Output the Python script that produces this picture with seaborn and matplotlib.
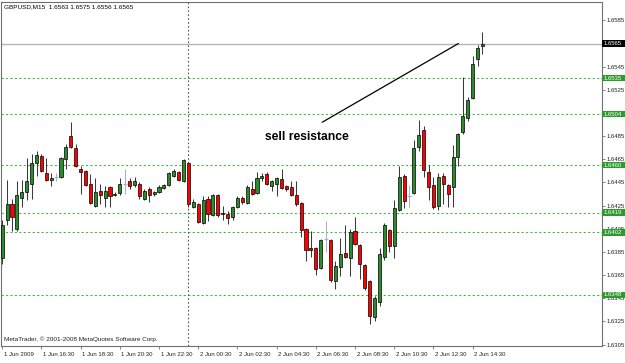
import numpy as np
import pandas as pd
import matplotlib
matplotlib.use("Agg")
import matplotlib.pyplot as plt
import matplotlib.patches as mpatches
from matplotlib.transforms import ScaledTranslation
import seaborn as sns

# ---------------- data (GBPUSD M15) ----------------
opens = [1.6380, 1.6413, 1.6426, 1.6405, 1.6432, 1.6437, 1.6444, 1.6462, 1.6468, 1.6453,
         1.6447, 1.6450, 1.6450, 1.6465, 1.6485, 1.6475, 1.6457, 1.6455, 1.6444, 1.6425,
         1.6438, 1.6432, 1.6441, 1.6434, 1.6436, 1.6444, 1.6446, 1.6443, 1.6444, 1.6431,
         1.6439, 1.6435, 1.6437, 1.6440, 1.6443, 1.6451, 1.6454, 1.6446, 1.6462, 1.6424,
         1.6426, 1.6410, 1.6431, 1.6417, 1.6434, 1.6419, 1.6418, 1.6415, 1.6424, 1.6432,
         1.6427, 1.6439, 1.6436, 1.6449, 1.6452, 1.6442, 1.6444, 1.6448, 1.6442, 1.6441,
         1.6434, 1.6427, 1.6405, 1.6388, 1.6388, 1.6371, 1.6396, 1.6395, 1.6360, 1.6372,
         1.6384, 1.6380, 1.6403, 1.6391, 1.6374, 1.6360, 1.6329, 1.6342, 1.6381, 1.6404,
         1.6390, 1.6421, 1.6451, 1.6433, 1.6436, 1.6476, 1.6490, 1.6454, 1.6443, 1.6425,
         1.6451, 1.6443, 1.6441, 1.6467, 1.6489, 1.6501, 1.6518, 1.6552, 1.6563]
highs = [1.6413, 1.6447, 1.6431, 1.6446, 1.6447, 1.6466, 1.6470, 1.6472, 1.6470, 1.6466,
         1.6453, 1.6453, 1.6467, 1.6478, 1.6497, 1.6478, 1.6459, 1.6456, 1.6452, 1.6449,
         1.6444, 1.6442, 1.6442, 1.6437, 1.6449, 1.6457, 1.6449, 1.6450, 1.6445, 1.6439,
         1.6441, 1.6438, 1.6443, 1.6444, 1.6454, 1.6457, 1.6455, 1.6465, 1.6463, 1.6431,
         1.6427, 1.6433, 1.6433, 1.6435, 1.6435, 1.6425, 1.6420, 1.6425, 1.6433, 1.6433,
         1.6443, 1.6446, 1.6454, 1.6453, 1.6454, 1.6447, 1.6450, 1.6457, 1.6443, 1.6446,
         1.6446, 1.6428, 1.6406, 1.6403, 1.6389, 1.6396, 1.6412, 1.6396, 1.6377, 1.6397,
         1.6408, 1.6405, 1.6415, 1.6392, 1.6375, 1.6361, 1.6347, 1.6388, 1.6410, 1.6405,
         1.6430, 1.6459, 1.6452, 1.6443, 1.6482, 1.6499, 1.6494, 1.6460, 1.6450, 1.6453,
         1.6453, 1.6444, 1.6477, 1.6488, 1.6536, 1.6519, 1.6554, 1.6564, 1.6575]
lows = [1.6375, 1.6408, 1.6403, 1.6403, 1.6424, 1.6430, 1.6431, 1.6451, 1.6454, 1.6446,
        1.6442, 1.6446, 1.6449, 1.6457, 1.6475, 1.6458, 1.6435, 1.6442, 1.6426, 1.6424,
        1.6426, 1.6424, 1.6424, 1.6433, 1.6434, 1.6435, 1.6439, 1.6441, 1.6431, 1.6430,
        1.6428, 1.6433, 1.6436, 1.6439, 1.6442, 1.6450, 1.6446, 1.6445, 1.6424, 1.6423,
        1.6410, 1.6409, 1.6412, 1.6416, 1.6415, 1.6413, 1.6409, 1.6413, 1.6423, 1.6426,
        1.6426, 1.6434, 1.6435, 1.6446, 1.6443, 1.6438, 1.6433, 1.6439, 1.6438, 1.6433,
        1.6425, 1.6398, 1.6377, 1.6381, 1.6365, 1.6370, 1.6385, 1.6359, 1.6353, 1.6364,
        1.6380, 1.6364, 1.6391, 1.6362, 1.6352, 1.6323, 1.6325, 1.6338, 1.6378, 1.6385,
        1.6380, 1.6420, 1.6423, 1.6424, 1.6435, 1.6472, 1.6450, 1.6430, 1.6422, 1.6421,
        1.6426, 1.6424, 1.6424, 1.6459, 1.6487, 1.6498, 1.6517, 1.6546, 1.6556]
closes = [1.6408, 1.6426, 1.6415, 1.6434, 1.6437, 1.6446, 1.6462, 1.6469, 1.6455, 1.6447,
          1.6449, 1.6450, 1.6466, 1.6476, 1.6476, 1.6459, 1.6454, 1.6443, 1.6427, 1.6437,
          1.6434, 1.6438, 1.6433, 1.6435, 1.6444, 1.6444, 1.6442, 1.6446, 1.6433, 1.6438,
          1.6434, 1.6437, 1.6441, 1.6443, 1.6453, 1.6455, 1.6447, 1.6464, 1.6426, 1.6428,
          1.6411, 1.6430, 1.6418, 1.6434, 1.6417, 1.6418, 1.6414, 1.6424, 1.6432, 1.6428,
          1.6441, 1.6435, 1.6449, 1.6451, 1.6444, 1.6446, 1.6449, 1.6440, 1.6439, 1.6434,
          1.6426, 1.6404, 1.6387, 1.6387, 1.6370, 1.6395, 1.6396, 1.6361, 1.6373, 1.6383,
          1.6381, 1.6402, 1.6392, 1.6375, 1.6354, 1.6330, 1.6345, 1.6383, 1.6408, 1.6390,
          1.6423, 1.6450, 1.6429, 1.6433, 1.6475, 1.6486, 1.6456, 1.6441, 1.6424, 1.6450,
          1.6444, 1.6435, 1.6467, 1.6487, 1.6502, 1.6516, 1.6547, 1.6561, 1.6565]

time_labels = ["1 Jun 2009", "1 Jun 16:30", "1 Jun 18:30", "1 Jun 20:30", "1 Jun 22:30",
               "2 Jun 00:30", "2 Jun 02:30", "2 Jun 04:30", "2 Jun 06:30", "2 Jun 08:30",
               "2 Jun 10:30", "2 Jun 12:30", "2 Jun 14:30"]
time_label_bars = [0, 8, 16, 24, 32, 40, 48, 56, 64, 72, 80, 88, 96]
day_separator_bar = 38

price_ticks = [1.6305, 1.6325, 1.6345, 1.6365, 1.6385, 1.6405, 1.6425, 1.6445,
               1.6465, 1.6485, 1.6505, 1.6525, 1.6545, 1.6565, 1.6585]
hidden_tick_labels = [1.6505, 1.6565]   # covered by the price boxes in the reference
level_lines = [1.6535, 1.6504, 1.6460, 1.6419, 1.6402, 1.6348]
bid_price = 1.6565

trend_bars = [65.3, 93.1]
trend_prices = [1.6497, 1.6565]
note_text = "sell resistance"
note_bar, note_price = 53.6, 1.6484

title_text = "GBPUSD,M15  1.6563 1.6575 1.6556 1.6565"
footer_text = "MetaTrader, \u00a9 2001-2008 MetaQuotes Software Corp."

# ---------------- styling ----------------
sns.set_theme(style="white")
plt.rcParams['font.family'] = ['Liberation Sans', 'DejaVu Sans']

BULL = '#2a8c2a'
BEAR = '#ff0000'
DOJI = '#a8b0c8'
LEVEL = '#4fb34f'
BOX = '#2e9a2e'
SMALL = 4.3

df = pd.DataFrame({'bar': np.arange(len(opens)), 'open': opens, 'high': highs,
                   'low': lows, 'close': closes})
df['kind'] = np.where(df.close > df.open, 'bull', np.where(df.close < df.open, 'bear', 'doji'))

W_PX, H_PX = 625, 363
fig = plt.figure(figsize=(W_PX / 100, H_PX / 100), dpi=100)
fig.patch.set_facecolor('white')
ax = fig.add_axes([1 / W_PX, 17 / H_PX, 600.5 / W_PX, 344.5 / H_PX])
ax.set_facecolor('white')

ax.set_xlim(-0.245, 122.3)
ax.set_ylim(1.630377, 1.660127)

# reference lines
for lvl in level_lines:
    ax.axhline(lvl, color=LEVEL, lw=0.8, ls=(0, (2, 2)), zorder=1)
ax.axhline(bid_price, color='#b4b4c8', lw=1.0, zorder=1)
ax.axvline(day_separator_bar, color='#555555', lw=0.8, ls=(0, (1.5, 2)), zorder=1)

# candles
wick_cols = np.where(df.kind == 'doji', DOJI, '#3a3a3a')
ax.vlines(df.bar, df.low, df.high, colors=wick_cols, lw=0.75, zorder=3)
body = df[df.kind != 'doji']
ax.bar(body.bar, (body.close - body.open).abs(), bottom=np.minimum(body.open, body.close),
       width=0.62, color=np.where(body.kind == 'bull', BULL, BEAR),
       edgecolor='black', linewidth=0.5, zorder=4)
dj = df[df.kind == 'doji']
ax.hlines(dj.open, dj.bar - 0.4, dj.bar + 0.4, colors=DOJI, lw=0.9, zorder=4)

# trend line + note
sns.lineplot(x=trend_bars, y=trend_prices, ax=ax, color='black', lw=0.9, zorder=5)
ax.text(note_bar, note_price, note_text, fontsize=8.7, fontweight='bold',
        ha='left', va='center', color='black', zorder=6)

# axes frame
for s in ax.spines.values():
    s.set_visible(True)
    s.set_color('#707070')
    s.set_linewidth(0.8)

# price axis on the right
ax.yaxis.tick_right()
ax.set_yticks(price_ticks)
ax.set_yticklabels(["" if p in hidden_tick_labels else f"{p:.4f}" for p in price_ticks])
ax.tick_params(axis='y', which='both', right=True, left=False, length=2.5, width=0.6,
               color='#707070', labelsize=SMALL, labelcolor='#222222', pad=1.2)

# time axis
ax.set_xticks(time_label_bars)
ax.set_xticklabels(time_labels, ha='left')
ax.tick_params(axis='x', bottom=True, length=2.5, width=0.6, color='#707070',
               labelsize=SMALL, labelcolor='#222222', pad=1.5)
off = ScaledTranslation(1.5 / 100, 0, fig.dpi_scale_trans)
for lab in ax.get_xticklabels():
    lab.set_transform(lab.get_transform() + off)
ax.set_xlabel('')
ax.set_ylabel('')

# price boxes on the axis
ytr = ax.get_yaxis_transform()
box_w = 24 / 600.5
box_h = 6.5 / 11580
for lvl, fc in [(l, BOX) for l in level_lines] + [(bid_price, 'black')]:
    ax.add_patch(mpatches.Rectangle((1.0, lvl - box_h / 2), box_w, box_h, transform=ytr,
                                    facecolor=fc, edgecolor='none', clip_on=False, zorder=10))
    ax.text(1.0 + 2 / 600.5, lvl, f"{lvl:.4f}", transform=ytr, color='white',
            fontsize=SMALL, ha='left', va='center', clip_on=False, zorder=11)

fig.text(4 / W_PX, 1 - 7 / H_PX, title_text, fontsize=4.6, ha='left', va='center', color='black')
fig.text(4 / W_PX, 1 - 339 / H_PX, footer_text, fontsize=4.6, ha='left', va='center', color='#222222')

fig.savefig('out.png', dpi=100, facecolor='white')
